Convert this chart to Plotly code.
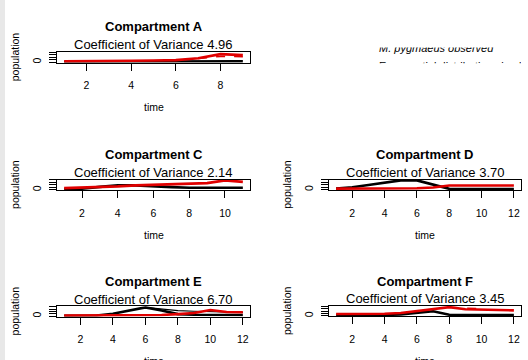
import plotly.graph_objects as go

W, H = 528, 360

# ---------------- data ----------------
panel_names = ["Compartment A", "Compartment C", "Compartment D", "Compartment E", "Compartment F"]
cov_values = ["4.96", "2.14", "3.70", "6.70", "3.45"]

time_A = [1, 2, 3, 4, 5, 6, 7, 8, 9]
obs_A = [4, 4, 4, 6, 8, 8, 8, 8, 8]
sim_A = [8, 8, 8, 14, 16, 20, 40, 82, 72]
simlo_t_A = [7, 8, 9]
simlo_A = [38, 58, 56]

time_C = [1, 2, 3, 4, 5, 6, 7, 8, 9, 10, 11]
obs_C = [8, 12, 30, 45, 45, 40, 28, 22, 22, 22, 22]
sim_C = [18, 22, 28, 35, 45, 52, 58, 62, 68, 95, 80]

time_D = [1, 2, 3, 4, 5, 6, 7, 8, 9, 10, 11, 12]
obs_D = [10, 25, 48, 72, 95, 95, 55, 8, 6, 6, 6, 6]
sim_D = [10, 10, 10, 10, 12, 14, 22, 42, 42, 42, 42, 42]

time_E = [1, 2, 3, 4, 5, 6, 7, 8, 9, 10, 11, 12]
obs_E = [5, 5, 8, 25, 55, 92, 60, 22, 15, 12, 12, 12]
obs2_t_E = [6, 7, 8, 9, 10, 11, 12]
obs2_E = [92, 75, 58, 52, 48, 44, 40]
sim_E = [6, 6, 6, 6, 8, 10, 12, 22, 34, 65, 45, 42]

time_F = [1, 2, 3, 4, 5, 6, 7, 8, 9, 10, 11, 12]
obs_F = [6, 6, 6, 8, 15, 30, 48, 12, 8, 8, 8, 8]
sim_F = [20, 20, 20, 22, 30, 50, 75, 92, 70, 68, 65, 58]
simlo_t_F = [8, 9, 10]
simlo_F = [90, 82, 74]

xticks_9 = [2, 4, 6, 8]
xticks_11 = [2, 4, 6, 8, 10]
xticks_12 = [2, 4, 6, 8, 10, 12]
yticks = [0, 25, 50, 75, 100]
ytick_text = ["0", "", "", "", ""]

legend_labels = ["<i>M. pygmaeus</i> <i>observed</i>", "Exponential distribution simulated"]

# ---------------- layout (pixel boxes) ----------------
boxes = [  # x0, x1, y0(top), y1(bottom)
    (57, 250, 52.0, 62.5),
    (57, 250, 179.5, 190.3),
    (329, 521, 179.5, 190.0),
    (57, 250, 306.3, 316.6),
    (329, 521, 306.0, 316.2),
]

FONT = "Liberation Sans, Arial, sans-serif"
RED = "#e00000"
LW = 2.6

series = [
    (time_A, obs_A, sim_A, [(simlo_t_A, simlo_A, RED, "dash", 1.5)], xticks_9),
    (time_C, obs_C, sim_C, [], xticks_11),
    (time_D, obs_D, sim_D, [], xticks_12),
    (time_E, obs_E, sim_E, [(obs2_t_E, obs2_E, "black", "solid", 1.2)], xticks_12),
    (time_F, obs_F, sim_F, [(simlo_t_F, simlo_F, RED, "dash", 1.5)], xticks_12),
]

fig = go.Figure()
annotations = []

def px_x(p):
    return p / W

def px_y(p):
    return 1 - p / H

for i, ((t, obs, sim, extra, xt), (x0, x1, y0, y1)) in enumerate(zip(series, boxes)):
    n = i + 1
    xa = "x" if n == 1 else f"x{n}"
    ya = "y" if n == 1 else f"y{n}"
    for tt, yy, col, dash, w in extra:
        fig.add_trace(go.Scatter(x=tt, y=yy, mode="lines", xaxis=xa, yaxis=ya,
                                 line=dict(color=col, width=w, dash=dash), showlegend=False))
    fig.add_trace(go.Scatter(x=t, y=obs, mode="lines", xaxis=xa, yaxis=ya,
                             line=dict(color="black", width=LW), showlegend=False))
    fig.add_trace(go.Scatter(x=t, y=sim, mode="lines", xaxis=xa, yaxis=ya,
                             line=dict(color=RED, width=LW), showlegend=False))
    tmin, tmax = min(t), max(t)
    pad = 0.04 * (tmax - tmin)
    ymax = max(yticks)
    xkey = "xaxis" if n == 1 else f"xaxis{n}"
    ykey = "yaxis" if n == 1 else f"yaxis{n}"
    fig.layout[xkey] = dict(domain=[px_x(x0), px_x(x1)], anchor=ya, range=[tmin - pad, tmax + pad],
                            tickvals=xt, ticks="outside", ticklen=7, tickcolor="black",
                            showline=True, mirror=True, linecolor="black", linewidth=1,
                            showgrid=False, zeroline=False, ticklabelstandoff=6,
                            tickfont=dict(family=FONT, size=10.5, color="black"))
    fig.layout[ykey] = dict(domain=[px_y(y1), px_y(y0)], anchor=xa, range=[-0.04 * ymax, 1.04 * ymax],
                            tickvals=yticks, ticktext=ytick_text, ticks="outside", ticklen=7,
                            tickcolor="black", tickangle=-90,
                            showline=True, mirror=True, linecolor="black", linewidth=1,
                            showgrid=False, zeroline=False, ticklabelstandoff=4,
                            tickfont=dict(family=FONT, size=10.5, color="black"))
    cx = (x0 + x1) / 2
    annotations += [
        dict(text=f"<b>{panel_names[i]}</b>", x=px_x(cx), y=px_y(y0 - 25), xref="paper", yref="paper",
             showarrow=False, xanchor="center", yanchor="middle", font=dict(family=FONT, size=13, color="black")),
        dict(text=f"Coefficient of Variance {cov_values[i]}", x=px_x(cx), y=px_y(y0 - 7.3), xref="paper",
             yref="paper", showarrow=False, xanchor="center", yanchor="middle",
             font=dict(family=FONT, size=13, color="black")),
        dict(text="time", x=px_x(cx), y=px_y(y1 + 44.5), xref="paper", yref="paper",
             showarrow=False, xanchor="center", yanchor="middle", font=dict(family=FONT, size=10.5, color="black")),
        dict(text="population", x=px_x(x0 - 42), y=px_y((y0 + y1) / 2), xref="paper", yref="paper",
             showarrow=False, xanchor="center", yanchor="middle", textangle=-90,
             font=dict(family=FONT, size=10.5, color="black")),
    ]

# legend in the empty panel, clipped to its region
fig.add_trace(go.Scatter(x=[379, 379], y=[48.9, 67.4], mode="text", text=legend_labels,
                         textposition="middle right", xaxis="x6", yaxis="y6", cliponaxis=True,
                         textfont=dict(family=FONT, size=11, color="black"), showlegend=False,
                         hoverinfo="skip"))
fig.layout["xaxis6"] = dict(domain=[px_x(329), px_x(521)], range=[329, 521], anchor="y6", visible=False)
fig.layout["yaxis6"] = dict(domain=[px_y(63.3), px_y(47.6)], range=[63.3, 47.6], anchor="x6", visible=False)

fig.update_layout(
    width=W, height=H, margin=dict(l=0, r=0, t=0, b=0),
    paper_bgcolor="white", plot_bgcolor="white",
    annotations=annotations,
    shapes=[dict(type="rect", xref="paper", yref="paper", x0=0, x1=px_x(5), y0=0, y1=1,
                 fillcolor="#e8e8e8", line=dict(width=0), layer="below")],
)

fig.write_html("out.html", config={"displayModeBar": False},
               post_script="document.body.style.margin='0';document.body.style.padding='0';")
